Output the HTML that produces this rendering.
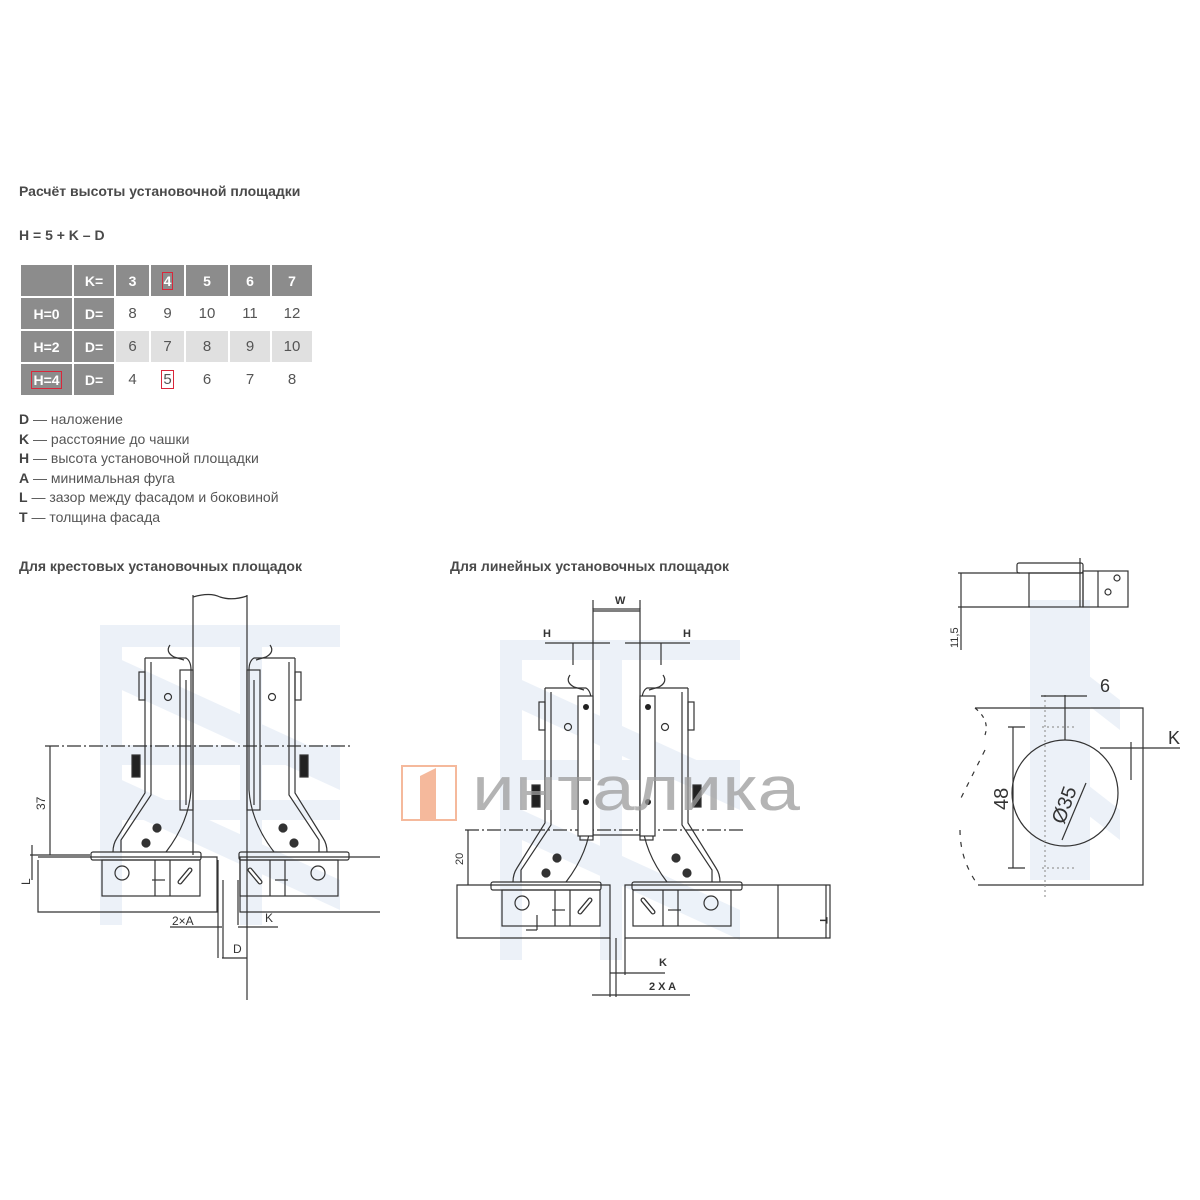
<!DOCTYPE html>
<html><head><meta charset="utf-8">
<style>
html,body{margin:0;padding:0;background:#fff;}
body{width:1200px;height:1200px;position:relative;overflow:hidden;font-family:"Liberation Sans",sans-serif;color:#444;}
.t{position:absolute;left:19px;font-weight:bold;font-size:14px;color:#4a4a4a;}
table{position:absolute;left:19px;top:263px;border-collapse:separate;border-spacing:2px;}
td{height:31px;text-align:center;font-size:15px;color:#555;padding:0;}
td.g{background:#8c8c8c;color:#fff;font-weight:bold;font-size:14px;}
td.l{background:#e0e0e0;}
.leg{position:absolute;left:19px;top:410px;font-size:14px;line-height:19.5px;color:#555;}
.leg b{color:#444;}
.red{border:1.5px solid #d9263a;padding:0 1px;}
</style></head><body>
<div class="t" style="top:183px;">Расчёт высоты установочной площадки</div>
<div class="t" style="top:227px;">H = 5 + K – D</div>
<table>
<tr><td class="g" style="width:51px"></td><td class="g" style="width:40px">K=</td><td class="g" style="width:33px">3</td><td class="g" style="width:33px"><span class="red">4</span></td><td class="g" style="width:42px">5</td><td class="g" style="width:40px">6</td><td class="g" style="width:40px">7</td></tr>
<tr><td class="g">H=0</td><td class="g">D=</td><td>8</td><td>9</td><td>10</td><td>11</td><td>12</td></tr>
<tr><td class="g">H=2</td><td class="g">D=</td><td class="l">6</td><td class="l">7</td><td class="l">8</td><td class="l">9</td><td class="l">10</td></tr>
<tr><td class="g"><span class="red">H=4</span></td><td class="g">D=</td><td>4</td><td><span class="red">5</span></td><td>6</td><td>7</td><td>8</td></tr>
</table>
<div class="leg"><b>D</b> — наложение<br><b>K</b> — расстояние до чашки<br><b>H</b> — высота установочной площадки<br><b>A</b> — минимальная фуга<br><b>L</b> — зазор между фасадом и боковиной<br><b>T</b> — толщина фасада</div>
<div class="t" style="top:558px;">Для крестовых установочных площадок</div>
<div class="t" style="top:558px;left:450px;">Для линейных установочных площадок</div>

<svg width="1200" height="1200" style="position:absolute;left:0;top:0" xmlns="http://www.w3.org/2000/svg">
<defs>
<g id="hinge" fill="none" stroke="#333" stroke-width="1.2">
  <path d="M170,645 Q165,652 174,657 L184,660"/>
  <path d="M145,658 H186 Q191,661 191,670 V790 Q189,822 166,852"/>
  <path d="M145,658 V793 L117,838 Q113,844 113,852"/>
  <path d="M151,662 V795 L121,840 V852"/>
  <rect x="139" y="672" width="6" height="28"/>
  <rect x="132" y="755" width="8" height="22" fill="#222"/>
  <circle cx="168" cy="697" r="3.5"/>
  <circle cx="157" cy="828" r="4" fill="#333"/>
  <circle cx="146" cy="843" r="4" fill="#333"/>
  <rect x="180" y="670" width="13" height="140"/>
  <line x1="186" y1="680" x2="186" y2="805"/>
  <rect x="91" y="852" width="110" height="8" rx="2"/>
  <rect x="102" y="860" width="98" height="36"/>
  <line x1="155" y1="860" x2="155" y2="896"/><line x1="170" y1="860" x2="170" y2="896"/>
  <circle cx="122" cy="873" r="7"/>
  <path d="M180,882 L190,870" stroke-width="5" stroke-linecap="round"/>
  <path d="M180,882 L190,870" stroke="#fff" stroke-width="2.5" stroke-linecap="round"/>
  <line x1="152" y1="880" x2="165" y2="880"/>
</g>
</defs>

<g fill="#e4ecf6" opacity="0.7">
  <rect x="100" y="625" width="240" height="22"/><rect x="100" y="745" width="240" height="20"/><rect x="100" y="800" width="240" height="20"/>
  <rect x="100" y="625" width="22" height="300"/><rect x="240" y="625" width="22" height="300"/>
  <polygon points="100,650 340,760 340,790 100,680"/><polygon points="100,770 340,880 340,910 100,800"/>
  <rect x="500" y="640" width="240" height="20"/><rect x="500" y="760" width="240" height="20"/>
  <rect x="500" y="640" width="22" height="320"/><rect x="600" y="640" width="22" height="320"/>
  <polygon points="500,670 740,780 740,810 500,700"/><polygon points="500,800 740,910 740,940 500,830"/>
  <rect x="1030" y="600" width="60" height="280"/>
  <polygon points="1030,630 1120,700 1120,730 1030,660"/><polygon points="1030,740 1120,810 1120,840 1030,770"/>
</g>

<g fill="none" stroke="#333" stroke-width="1.2">
  <path d="M193,597 Q210,592 220,597 Q232,601 247,596"/>
  <line x1="193" y1="595" x2="193" y2="855"/><line x1="247" y1="595" x2="247" y2="1000"/>
  <path d="M380,857 H240 V912 H380"/>
  <path d="M38,857 H217 V912 H38 V860"/>
  <line x1="45" y1="746" x2="353" y2="746" stroke-dasharray="14,3,2,3"/>
  <line x1="50" y1="746" x2="50" y2="855"/>
  <line x1="30" y1="855" x2="90" y2="855"/>
  <line x1="32" y1="845" x2="32" y2="880"/>
  <line x1="218" y1="860" x2="218" y2="958"/><line x1="223" y1="880" x2="223" y2="958"/>
  <line x1="238" y1="880" x2="238" y2="925"/>
  <line x1="170" y1="927" x2="222" y2="927"/><line x1="238" y1="927" x2="278" y2="927"/>
  <line x1="222" y1="958" x2="247" y2="958"/>
</g>
<use href="#hinge"/>
<use href="#hinge" transform="translate(440,0) scale(-1,1)"/>
<g font-family="Liberation Sans,sans-serif" font-size="12" fill="#333">
  <text x="45" y="810" transform="rotate(-90 45 810)">37</text>
  <text x="30" y="885" transform="rotate(-90 30 885)">L</text>
  <text x="172" y="925">2×A</text>
  <text x="265" y="922">K</text>
  <text x="233" y="953">D</text>
</g>

<g fill="none" stroke="#333" stroke-width="1.2">
  <rect x="593" y="609" width="47" height="226"/>
  <line x1="593" y1="609" x2="593" y2="600"/><line x1="640" y1="609" x2="640" y2="600"/>
  <line x1="593" y1="611" x2="640" y2="611"/>
  <line x1="545" y1="643" x2="610" y2="643"/><line x1="625" y1="643" x2="690" y2="643"/>
  <line x1="573" y1="643" x2="573" y2="665"/><line x1="661" y1="643" x2="661" y2="665"/>
  <path d="M830,885 H625 V938 H830 Z"/>
  <path d="M457,885 H610 V938 H457 Z"/>
  <line x1="778" y1="885" x2="778" y2="938"/>
  <line x1="826" y1="885" x2="826" y2="938"/>
  <line x1="465" y1="830" x2="743" y2="830" stroke-dasharray="14,3,2,3"/>
  <line x1="468" y1="830" x2="468" y2="885"/>
  <line x1="610" y1="938" x2="610" y2="997"/><line x1="616" y1="938" x2="616" y2="997"/>
  <line x1="625" y1="938" x2="625" y2="975"/>
  <line x1="610" y1="973" x2="665" y2="973"/><line x1="592" y1="995" x2="690" y2="995"/>
  <line x1="537" y1="915" x2="537" y2="930"/><line x1="526" y1="930" x2="537" y2="930"/>
</g>
<use href="#hinge" transform="translate(400,30)"/>
<use href="#hinge" transform="translate(833,30) scale(-1,1)"/>
<g fill="#fff" stroke="#333" stroke-width="1.2">
  <rect x="578" y="696" width="15" height="140"/><rect x="640" y="696" width="15" height="140"/>
</g>
<circle cx="586" cy="707" r="3" fill="#222"/><circle cx="586" cy="802" r="3" fill="#222"/>
<circle cx="648" cy="707" r="3" fill="#222"/><circle cx="648" cy="802" r="3" fill="#222"/>
<g font-family="Liberation Sans,sans-serif" font-size="11" font-weight="bold" fill="#333">
  <text x="615" y="604">W</text>
  <text x="543" y="637">H</text><text x="683" y="637">H</text>
  <text x="820" y="917" transform="rotate(90 820 917)">T</text>
  <text x="659" y="966">K</text>
  <text x="649" y="990">2 X A</text>
  <text x="463" y="865" font-weight="normal" transform="rotate(-90 463 865)">20</text>
</g>

<g fill="none" stroke="#333" stroke-width="1.2">
  <rect x="1017" y="563" width="66" height="10" rx="2"/>
  <rect x="1029" y="573" width="54" height="34"/>
  <rect x="1083" y="571" width="45" height="36"/>
  <line x1="1080" y1="558" x2="1080" y2="607"/>
  <line x1="1098" y1="571" x2="1098" y2="607"/>
  <circle cx="1108" cy="592" r="3"/><circle cx="1117" cy="578" r="3"/>
  <line x1="958" y1="573" x2="1020" y2="573"/><line x1="958" y1="607" x2="1030" y2="607"/>
  <line x1="961" y1="573" x2="961" y2="650"/>
  <path d="M975,708 H1143 V885 H978"/>
  <path d="M975,708 Q990,720 985,735" stroke-dasharray="4,5"/>
  <path d="M985,750 Q970,780 960,800 M960,830 Q960,860 978,885" stroke-dasharray="5,7"/>
  <circle cx="1065" cy="793" r="53"/>
  <line x1="1013" y1="727" x2="1013" y2="868"/>
  <line x1="1008" y1="727" x2="1025" y2="727"/><line x1="1008" y1="868" x2="1025" y2="868"/>
  <line x1="1065" y1="695" x2="1065" y2="740"/>
  <line x1="1045" y1="695" x2="1045" y2="900" stroke="#999" stroke-dasharray="2,3"/>
  <line x1="1041" y1="696" x2="1087" y2="696"/>
  <line x1="1100" y1="748" x2="1180" y2="748"/>
  <line x1="1131" y1="742" x2="1131" y2="780"/>
  <line x1="1086" y1="783" x2="1062" y2="840"/>
  <line x1="1042" y1="727" x2="1075" y2="727" stroke="#999" stroke-dasharray="2,3"/>
  <line x1="1042" y1="868" x2="1075" y2="868" stroke="#999" stroke-dasharray="2,3"/>
</g>
<g font-family="Liberation Sans,sans-serif" fill="#333">
  <text x="958" y="648" font-size="11" transform="rotate(-90 958 648)">11,5</text>
  <text x="1100" y="692" font-size="18">6</text>
  <text x="1168" y="744" font-size="18">K</text>
  <text x="1008" y="810" font-size="20" transform="rotate(-90 1008 810)">48</text>
  <text x="1064" y="825" font-size="20" transform="rotate(-70 1064 825)">Ø35</text>
</g>

<g opacity="0.75">
  <rect x="402" y="766" width="54" height="54" fill="none" stroke="#f2a27c" stroke-width="2"/>
  <polygon points="420,776 436,768 436,820 420,820" fill="#f2a27c"/>
  <text x="472" y="810" font-family="Liberation Sans,sans-serif" font-size="62" fill="#9c9c9c" textLength="328" lengthAdjust="spacingAndGlyphs">интaлика</text>
</g>
</svg>
</body></html>
